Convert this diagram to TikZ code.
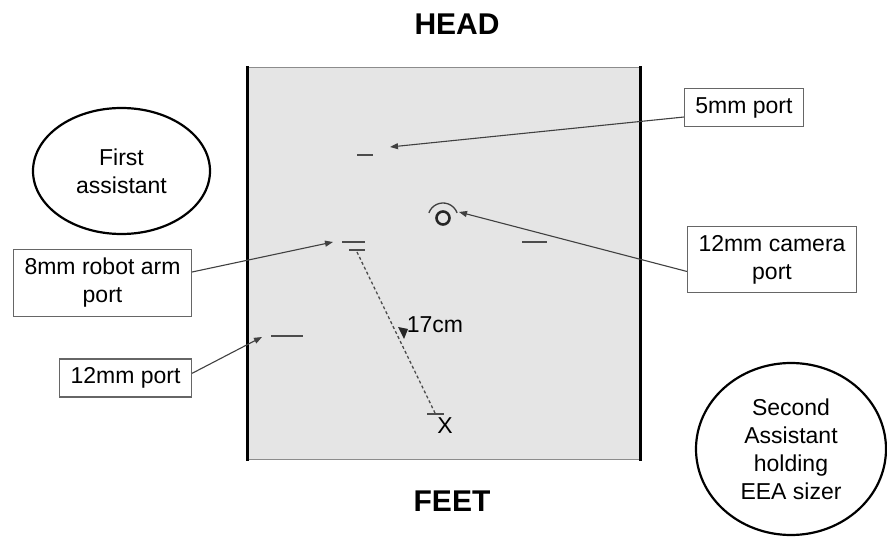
\documentclass[tikz,border=0pt]{standalone}
\usepackage{fontspec}
\setmainfont{Liberation Sans}
\usetikzlibrary{arrows.meta,shapes.geometric}
\begin{document}
\begin{tikzpicture}[x=1pt,y=-1pt,>={Triangle[length=8pt,width=6pt]},
  every node/.style={font=\fontsize{23}{28}\selectfont, align=center},
  portbox/.style={draw=black!60, line width=1.2pt, fill=white, inner xsep=11pt, inner ysep=8.5pt},
  crew/.style={ellipse, draw, line width=2.2pt, inner sep=0pt},
  pointer/.style={->, draw=black!75, line width=1.1pt},
  portmark/.style={black!70, line width=1.5pt},
  sidetitle/.style={font=\fontsize{30}{36}\selectfont\bfseries}]
\useasboundingbox (0,0) rectangle (887,537);
\fill[black!10] (247,68) rectangle (640,460);
\draw[black!45, line width=1pt] (247,68) -- (640,68) (247,460) -- (640,460);
\draw[line width=3pt] (247,66.5) -- (247,461.5) (640,66.5) -- (640,461.5);
\node[sidetitle] (head) at (457,24) {HEAD};
\node[sidetitle] (feet) at (452,501) {FEET};
\coordinate (fivetip) at (390,147);
\coordinate (cameratip) at (459,212);
\coordinate (robottip) at (333,242);
\coordinate (twelvetip) at (262,337);
\coordinate (armport) at (357,252);
\coordinate (target) at (435,413);
\draw[portmark] (357,155) -- (373,155);
\draw[portmark] (342,242) -- (365,242) (349,250) -- (365,250);
\draw[portmark] (522,242) -- (547,242);
\draw[portmark] (271,336) -- (303,336);
\draw[portmark] (427,414) -- (444,414);
\draw[line width=2.6pt, black!85] (443,218) circle[radius=6.5];
\draw[line width=1.3pt, black!75] (443,218) ++(200:15) arc[start angle=200, end angle=340, radius=15];
\draw[dashed, dash pattern=on 3pt off 2.5pt, black!70, line width=1.3pt] (armport) -- (target);
\fill[black!85] (398,327) -- (408,329) -- (404,339) -- cycle;
\node (dist) at (435,325) {17cm};
\node (stapler) at (445,426) {X};
\node[portbox] (five) at (744,107.5) {5mm port};
\node[portbox] (camera) at (772,259.5) {12mm camera\\port};
\node[portbox] (robot) at (102.5,283) {8mm robot arm\\port};
\node[portbox] (twelve) at (125.5,378) {12mm port};
\node[crew, minimum width=177, minimum height=126] (first) at (121.5,171) {First\\assistant};
\node[crew, minimum width=190, minimum height=172] (second) at (791,449) {Second\\Assistant\\holding\\EEA sizer};
\draw[pointer] (five.189) -- (fivetip);
\draw[pointer] (camera.188) -- (cameratip);
\draw[pointer] (robot.7) -- (robottip);
\draw[pointer] (twelve.4) -- (twelvetip);
\end{tikzpicture}
\end{document}
